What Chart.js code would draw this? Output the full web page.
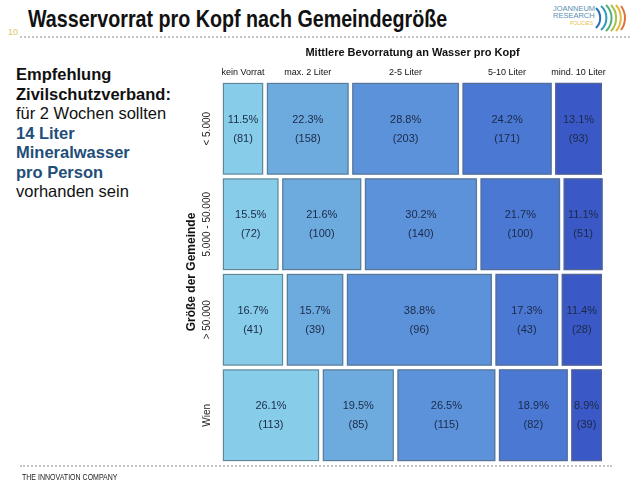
<!DOCTYPE html>
<html>
<head>
<meta charset="utf-8">
<script src="https://cdn.jsdelivr.net/npm/chart.js@4.4.1/dist/chart.umd.min.js"></script>
<style>
  body { margin: 0; width: 634px; height: 490px; background: #fff; overflow: hidden; position: relative; font-family: "Liberation Sans", Arial, sans-serif; }
  .title { position: absolute; left: 28px; top: 5px; font-weight: bold; font-size: 24px; color: #111; white-space: nowrap; transform: scaleX(0.82); transform-origin: left top; }
  .pagenum { position: absolute; left: 8px; top: 27px; font-size: 9px; color: #e2c36a; }
  .dots { position: absolute; height: 0; border-top: 2px dotted #c4c4c4; }
  .note { position: absolute; left: 16px; top: 65px; font-size: 16.5px; line-height: 19.5px; color: #111; }
  .note b { font-weight: bold; }
  .note .blue { color: #1f4e79; font-weight: bold; }
  .footer { position: absolute; left: 22px; top: 472px; font-size: 9px; color: #222; white-space: nowrap; transform: scaleX(0.78); transform-origin: left top; }
  .logo { position: absolute; left: 553px; top: 5px; font-size: 7.5px; line-height: 7px; color: #5b8fb0; text-align: right; width: 40px; }
  .logo .pol { color: #e8c24a; font-size: 5px; }
  #wrap { position: absolute; left: 180px; top: 40px; width: 440px; height: 430px; }
</style>
</head>
<body>
<div class="pagenum">10</div>
<div class="title">Wasservorrat pro Kopf nach Gemeindegröße</div>
<div class="logo">JOANNEUM<br>RESEARCH<br><span class="pol">POLICIES</span></div>
<svg style="position:absolute;left:594px;top:4px" width="34" height="28" viewBox="0 0 34 28">
  <g fill="none" stroke-width="2">
    <path d="M2 4 A14 14 0 0 1 2 24" stroke="#2a6fb5"/>
    <path d="M7 2 A16 16 0 0 1 7 26" stroke="#2f9bb8"/>
    <path d="M12 1 A18 18 0 0 1 12 27" stroke="#4fb07a"/>
    <path d="M17 1 A19 19 0 0 1 17 27" stroke="#a6c24a"/>
    <path d="M22 1 A20 20 0 0 1 22 27" stroke="#e8b83a"/>
    <path d="M27 2 A20 20 0 0 1 27 26" stroke="#e2703a"/>
  </g>
</svg>
<div class="dots" style="left:20px; top:36px; width:610px;"></div>

<div class="note">
  <b>Empfehlung</b><br>
  <b>Zivilschutzverband:</b><br>
  für 2 Wochen sollten<br>
  <span class="blue">14 Liter</span><br>
  <span class="blue">Mineralwasser</span><br>
  <span class="blue">pro Person</span><br>
  vorhanden sein
</div>

<div id="wrap"><canvas id="myChart" width="440" height="430"></canvas></div>

<div class="dots" style="left:20px; top:465px; width:592px;"></div>
<div class="footer">THE INNOVATION COMPANY</div>

<script>
// rows = Gemeindegröße, columns = Bevorratung
const groups = ['< 5.000', '5.000 - 50.000', '> 50.000', 'Wien'];
const storage = ['kein Vorrat', 'max. 2 Liter', '2-5 Liter', '5-10 Liter', 'mind. 10 Liter'];

// share in percent per row
const keinVorrat = [11.5, 15.5, 16.7, 26.1];
const max2Liter = [22.3, 21.6, 15.7, 19.5];
const liter2to5 = [28.8, 30.2, 38.8, 26.5];
const liter5to10 = [24.2, 21.7, 17.3, 18.9];
const mind10Liter = [13.1, 11.1, 11.4, 8.9];

// number of answers per cell
const nKeinVorrat = [81, 72, 41, 113];
const nMax2Liter = [158, 100, 39, 85];
const nLiter2to5 = [203, 140, 96, 115];
const nLiter5to10 = [171, 100, 43, 82];
const nMind10Liter = [93, 51, 28, 39];

const colors = ['#87cdea', '#6daade', '#5c92da', '#4a78d2', '#3a58c6'];
const shares = [keinVorrat, max2Liter, liter2to5, liter5to10, mind10Liter];
const counts = [nKeinVorrat, nMax2Liter, nLiter2to5, nLiter5to10, nMind10Liter];

var datasets = [];
for (var i = 0; i < storage.length; i++) {
    datasets.push({
        label: storage[i],
        data: shares[i],
        counts: counts[i],
        backgroundColor: colors[i],
        borderColor: '#ffffff',
        borderWidth: 2,
        borderSkipped: false,
        barPercentage: 1,
        categoryPercentage: 1
    });
}

// gray outline, cell labels, column headers and chart title
const mosaicPlugin = {
    id: 'mosaic',
    afterDatasetsDraw(chart) {
        const ctx = chart.ctx;
        ctx.save();
        chart.data.datasets.forEach((ds, di) => {
            const meta = chart.getDatasetMeta(di);
            meta.data.forEach((bar, j) => {
                const p = bar.getProps(['x', 'y', 'base', 'height'], true);
                const left = Math.min(p.x, p.base), right = Math.max(p.x, p.base);
                const top = p.y - p.height / 2;
                ctx.strokeStyle = 'rgba(95,105,115,0.75)';
                ctx.lineWidth = 1;
                ctx.strokeRect(left + 2.5, top + 2.5, right - left - 5, p.height - 5);

                const cx = (left + right) / 2;
                ctx.fillStyle = '#1b2a48';
                ctx.font = '11px "Liberation Sans", Arial, sans-serif';
                ctx.textAlign = 'center';
                ctx.textBaseline = 'middle';
                ctx.fillText(ds.data[j].toFixed(1) + '%', cx, p.y - 9);
                ctx.fillText('(' + ds.counts[j] + ')', cx, p.y + 10);

                if (j === 0) {
                    ctx.fillStyle = '#111';
                    ctx.font = '9px "Liberation Sans", Arial, sans-serif';
                    ctx.fillText(ds.label, cx, chart.chartArea.top - 8);
                }
            });
        });
        const area = chart.chartArea;
        ctx.fillStyle = '#111';
        ctx.font = 'bold 11px "Liberation Sans", Arial, sans-serif';
        ctx.textAlign = 'center';
        ctx.fillText('Mittlere Bevorratung an Wasser pro Kopf', (area.left + area.right) / 2, area.top - 28);
        ctx.restore();
    }
};

const ctx = document.getElementById('myChart').getContext('2d');
const myChart = new Chart(ctx, {
    type: 'bar',
    data: { labels: groups, datasets: datasets },
    options: {
        indexAxis: 'y',
        responsive: false,
        animation: false,
        layout: { padding: { left: 0, top: 41, right: 16, bottom: 7 } },
        plugins: { legend: { display: false }, tooltip: { enabled: false }, title: { display: false } },
        scales: {
            x: { stacked: true, min: 0, max: 100, display: false },
            y: {
                stacked: true,
                grid: { display: false, drawTicks: false },
                border: { display: false },
                ticks: {
                    minRotation: 90,
                    maxRotation: 90,
                    crossAlign: 'center',
                    padding: -18,
                    color: '#222',
                    font: { size: 10, family: '"Liberation Sans", Arial, sans-serif' }
                },
                title: {
                    display: true,
                    text: 'Größe der Gemeinde',
                    color: '#111',
                    padding: { top: 4, bottom: 0 },
                    font: { size: 12, weight: 'bold', family: '"Liberation Sans", Arial, sans-serif' }
                },
                afterFit(scale) { scale.width = 41; }
            }
        }
    },
    plugins: [mosaicPlugin]
});
</script>
</body>
</html>
